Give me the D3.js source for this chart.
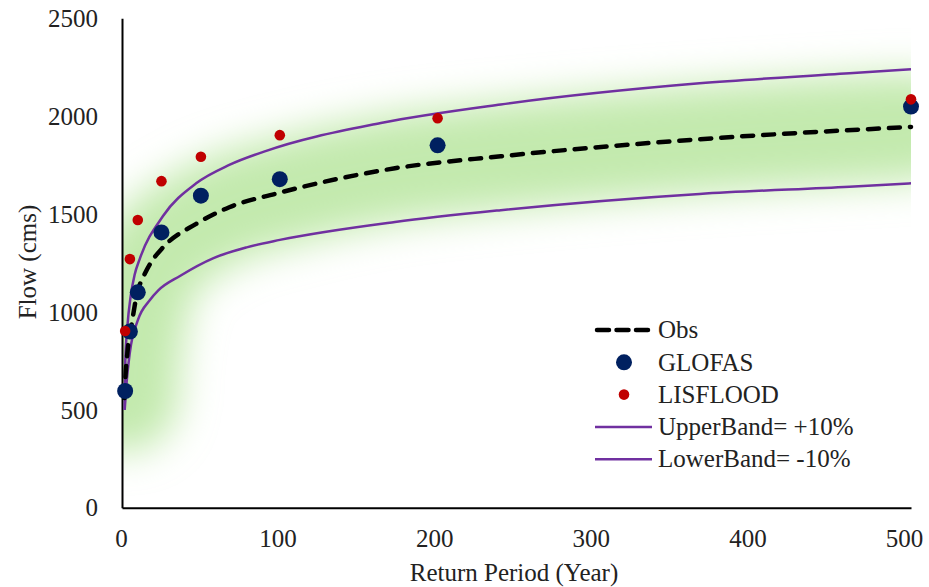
<!DOCTYPE html>
<html>
<head>
<meta charset="utf-8">
<script src="https://cdn.jsdelivr.net/npm/d3@7"></script>
<style>
  html, body { margin: 0; padding: 0; background: #fff; }
  svg { display: block; }
</style>
</head>
<body>
<svg id="chart" width="929" height="587"></svg>
<script>
// ---- data ----
const returnPeriods = [2, 5, 10, 25, 50, 100, 200, 500];
const glofas   = [596, 900, 1100, 1406, 1594, 1678, 1851, 2049];
const lisflood = [903, 1270, 1470, 1668, 1793, 1903, 1990, 2086];

const obsT = [1.6, 2, 3.4, 6, 10, 13, 18, 26, 47, 68, 98, 173, 240, 366, 500];
const obsQ = [560, 640, 790, 930, 1110, 1170, 1248, 1330, 1450, 1535, 1605, 1734, 1795, 1882, 1945];

const upperT = [1.7, 2.1, 3.4, 5.5, 8, 11.2, 26, 47, 68, 90, 164, 240, 366, 461, 500];
const upperQ = [500, 750, 925, 1080, 1190, 1270, 1490, 1657, 1751, 1819, 1965, 2060, 2168, 2219, 2240];

const lowerT = [1.7, 2.7, 4.9, 10.1, 17.7, 23, 37, 58, 79, 100, 173, 240, 366, 461, 500];
const lowerQ = [500, 618, 789, 959, 1061, 1110, 1185, 1275, 1330, 1368, 1460, 1520, 1603, 1640, 1657];

const xTicks = [0, 100, 200, 300, 400, 500];
const yTicks = [0, 500, 1000, 1500, 2000, 2500];

const legendItems = [
  {label: "Obs", kind: "dash"},
  {label: "GLOFAS", kind: "big"},
  {label: "LISFLOOD", kind: "small"},
  {label: "UpperBand= +10%", kind: "line"},
  {label: "LowerBand= -10%", kind: "line"}
];

const colors = {obs: "#000000", glofas: "#002060", lisflood: "#c00000", band: "#7030a0", glow: "#b9e6a0"};
const FONT = "'Liberation Serif', 'DejaVu Serif', serif";

// ---- scales ----
const svg = d3.select("#chart");
const x = d3.scaleLinear().domain([0, 500]).range([122, 911]);
const y = d3.scaleLinear().domain([0, 2500]).range([507.7, 18.3]);

const zip = (a, b) => a.map((v, i) => [v, b[i]]);
const obs = zip(obsT, obsQ), upper = zip(upperT, upperQ), lower = zip(lowerT, lowerQ);

const line = d3.line().x(d => x(d[0])).y(d => y(d[1])).curve(d3.curveMonotoneX);

const defs = svg.append("defs");
defs.append("clipPath").attr("id", "plotClip")
  .append("rect").attr("x", x(0)).attr("y", 0).attr("width", x(500) - x(0)).attr("height", y(0));
const f = defs.append("filter").attr("id", "glow")
  .attr("filterUnits", "userSpaceOnUse").attr("x", 0).attr("y", 0).attr("width", 929).attr("height", 587);
f.append("feGaussianBlur").attr("stdDeviation", 19);

// glow band around observed curve
svg.append("g").attr("clip-path", "url(#plotClip)")
  .append("path").datum(obs)
  .attr("d", line)
  .attr("fill", "none")
  .attr("stroke", colors.glow)
  .attr("stroke-width", 108)
  .attr("stroke-opacity", 0.85)
  .attr("stroke-linecap", "round")
  .attr("stroke-linejoin", "round")
  .attr("filter", "url(#glow)");

// axes
const xAxis = d3.axisBottom(x).tickValues(xTicks).tickSize(0).tickPadding(0).tickFormat(d3.format("d"));
const gx = svg.append("g").attr("transform", `translate(0,${y(0)})`).call(xAxis)
  .attr("font-family", FONT);
gx.select(".domain").attr("stroke", "#000").attr("stroke-width", 2);
gx.selectAll("text").attr("font-size", 25).attr("fill", "#222").attr("font-family", FONT)
  .attr("y", 39).attr("dy", 0)
  .attr("dx", d => -1 - d / 500 * 6);

const yAxis = d3.axisLeft(y).tickValues(yTicks).tickSize(0).tickPadding(0).tickFormat(d3.format("d"));
const gy = svg.append("g").attr("transform", `translate(${x(0)},0)`).call(yAxis)
  .attr("font-family", FONT);
gy.select(".domain").attr("stroke", "#000").attr("stroke-width", 2);
gy.selectAll("text").attr("font-size", 25).attr("fill", "#222").attr("font-family", FONT)
  .attr("x", -24).attr("dy", "0.33em");

// band lines
svg.append("path").datum(upper).attr("d", line)
  .attr("fill", "none").attr("stroke", colors.band).attr("stroke-width", 2.5);
svg.append("path").datum(lower).attr("d", line)
  .attr("fill", "none").attr("stroke", colors.band).attr("stroke-width", 2.5);

// observed dashed curve
svg.append("path").datum(obs).attr("d", line)
  .attr("fill", "none").attr("stroke", colors.obs).attr("stroke-width", 4.5)
  .attr("stroke-dasharray", "11 10").attr("stroke-linecap", "round");

// points
svg.append("g").selectAll("circle").data(returnPeriods).join("circle")
  .attr("cx", d => x(d)).attr("cy", (d, i) => y(glofas[i])).attr("r", 8)
  .attr("fill", colors.glofas);
svg.append("g").selectAll("circle").data(returnPeriods).join("circle")
  .attr("cx", d => x(d)).attr("cy", (d, i) => y(lisflood[i])).attr("r", 5.3)
  .attr("fill", colors.lisflood);

// axis titles
svg.append("text").attr("x", 514).attr("y", 581).attr("text-anchor", "middle")
  .attr("font-family", FONT).attr("fill", "#222")
  .attr("font-size", 25).text("Return Period (Year)");
svg.append("text").attr("transform", "translate(36,262) rotate(-90)").attr("text-anchor", "middle")
  .attr("font-family", FONT).attr("fill", "#222")
  .attr("font-size", 25).text("Flow (cms)");

// legend
const lg = svg.append("g").attr("transform", "translate(595,330)");
const rowH = 32.3;
legendItems.forEach((it, i) => {
  const g = lg.append("g").attr("transform", `translate(0,${i * rowH})`);
  if (it.kind === "dash") {
    g.append("line").attr("x1", 2).attr("x2", 55).attr("y1", 0).attr("y2", 0)
      .attr("stroke", colors.obs).attr("stroke-width", 4.5)
      .attr("stroke-dasharray", "12 7.5").attr("stroke-linecap", "round");
  } else if (it.kind === "big") {
    g.append("circle").attr("cx", 29).attr("cy", 0).attr("r", 8).attr("fill", colors.glofas);
  } else if (it.kind === "small") {
    g.append("circle").attr("cx", 29).attr("cy", 0).attr("r", 5.3).attr("fill", colors.lisflood);
  } else {
    g.append("line").attr("x1", 0).attr("x2", 57).attr("y1", 0).attr("y2", 0)
      .attr("stroke", colors.band).attr("stroke-width", 2.5);
  }
  g.append("text").attr("x", 63).attr("y", 0).attr("dy", "0.33em")
    .attr("font-family", FONT).attr("fill", "#222")
    .attr("font-size", 25).text(it.label);
});
</script>
</body>
</html>
